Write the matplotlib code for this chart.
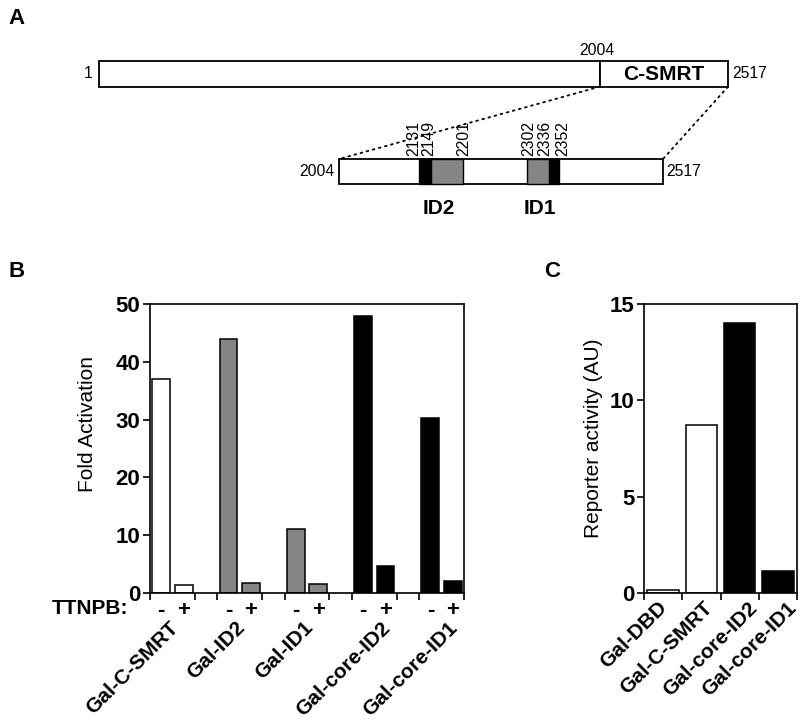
import matplotlib
matplotlib.use("Agg")
import matplotlib.pyplot as plt
from matplotlib.patches import Rectangle, ConnectionPatch
from matplotlib.transforms import blended_transform_factory, offset_copy

plt.rcParams['font.family'] = ['Liberation Sans', 'DejaVu Sans']

# ---------------- data ----------------
# Panel A: domain map
full_start, split_pos, full_end = 1, 2004, 2517
black_segments = [(2131, 2149), (2336, 2352)]
gray_segments = [(2149, 2201), (2302, 2336)]
boundary_labels = [2131, 2149, 2201, 2302, 2336, 2352]
boundary_label_shift = [-8, -3, 1, 3, -7, 6]
domain_names = ["ID2", "ID1"]
domain_spans = [(2131, 2201), (2302, 2352)]

# Panel B
b_groups = ["Gal-C-SMRT", "Gal-ID2", "Gal-ID1", "Gal-core-ID2", "Gal-core-ID1"]
b_minus = [37.0, 44.0, 11.0, 48.0, 30.3]
b_plus = [1.3, 1.8, 1.5, 4.7, 2.1]
b_colors = ["white", "#858585", "#858585", "black", "black"]
b_yticks = [0, 10, 20, 30, 40, 50]
b_label_nudge = [0, 0, 0, 10, 10]

# Panel C
c_labels = ["Gal-DBD", "Gal-C-SMRT", "Gal-core-ID2", "Gal-core-ID1"]
c_values = [0.18, 8.7, 14.0, 1.13]
c_colors = ["white", "white", "black", "black"]
c_yticks = [0, 5, 10, 15]
c_label_nudge = [0, 7, 14, 15]

GRAY = "#858585"
W, H = 800, 724
fig = plt.figure(figsize=(W / 100, H / 100), dpi=100)


def px_axes(l, t, r, b):
    return fig.add_axes([l / W, 1 - b / H, (r - l) / W, (b - t) / H])


# ---------------- Panel A ----------------
ax_top = px_axes(99, 60.7, 728, 86.7)
ax_top.set_xlim(full_start, full_end)
ax_top.set_ylim(0, 1)
ax_top.axis("off")
ax_top.add_patch(Rectangle((full_start, 0), split_pos - full_start, 1, fc="white", ec="black", lw=1.3, clip_on=False))
ax_top.add_patch(Rectangle((split_pos, 0), full_end - split_pos, 1, fc="white", ec="black", lw=1.3, clip_on=False))
ax_top.annotate("1", (full_start, 0.5), xytext=(-5, 0), textcoords="offset points",
                ha="right", va="center", fontsize=11.3)
ax_top.annotate(str(split_pos), (split_pos, 1), xytext=(-2, 2), textcoords="offset points",
                ha="center", va="bottom", fontsize=11.3)
ax_top.annotate(str(full_end), (full_end, 0.5), xytext=(3, 0), textcoords="offset points",
                ha="left", va="center", fontsize=11.3)
ax_top.text((split_pos + full_end) / 2, 0.45, "C-SMRT", ha="center", va="center",
            fontsize=15, fontweight="bold")

ax_bot = px_axes(339, 159, 663, 184)
ax_bot.set_xlim(split_pos, full_end)
ax_bot.set_ylim(0, 1)
ax_bot.axis("off")
ax_bot.add_patch(Rectangle((split_pos, 0), full_end - split_pos, 1, fc="white", ec="black", lw=1.3, clip_on=False))
for s, e in black_segments:
    ax_bot.add_patch(Rectangle((s, 0), e - s, 1, fc="black", ec="black", lw=1, clip_on=False))
for s, e in gray_segments:
    ax_bot.add_patch(Rectangle((s, 0), e - s, 1, fc=GRAY, ec="black", lw=1, clip_on=False))
ax_bot.annotate(str(split_pos), (split_pos, 0.5), xytext=(-3, 0), textcoords="offset points",
                ha="right", va="center", fontsize=11.3)
ax_bot.annotate(str(full_end), (full_end, 0.5), xytext=(2, 0), textcoords="offset points",
                ha="left", va="center", fontsize=11.3)
for v, sh in zip(boundary_labels, boundary_label_shift):
    ax_bot.annotate(str(v), (v + sh, 1), xytext=(0, 2), textcoords="offset points",
                    ha="center", va="bottom", rotation=90, fontsize=11.3)
for name, (s, e) in zip(domain_names, domain_spans):
    ax_bot.annotate(name, ((s + e) / 2, 0), xytext=(-2, -11), textcoords="offset points",
                    ha="center", va="top", fontsize=15, fontweight="bold")

for x in (split_pos, full_end):
    con = ConnectionPatch(xyA=(x, 0), coordsA=ax_top.transData,
                          xyB=(x, 1), coordsB=ax_bot.transData,
                          linestyle=(0, (1, 2.5)), color="black", lw=1.3)
    fig.add_artist(con)

# panel letters
fig.text(8 / W, 1 - 8 / H, "A", fontsize=16, fontweight="bold", ha="left", va="top")
fig.text(9 / W, 1 - 261 / H, "B", fontsize=16, fontweight="bold", ha="left", va="top")
fig.text(544 / W, 1 - 261 / H, "C", fontsize=16, fontweight="bold", ha="left", va="top")

# ---------------- Panel B ----------------
axB = px_axes(150, 304, 464, 593)
minus_x = [3 * i for i in range(len(b_groups))]
plus_x = [3 * i + 1 for i in range(len(b_groups))]
axB.bar(minus_x, b_minus, width=0.8, color=b_colors, edgecolor="black", lw=1.1)
axB.bar(plus_x, b_plus, width=0.8, color=b_colors, edgecolor="black", lw=1.1)
axB.set_xlim(-0.5, 3 * len(b_groups) - 1.5)
axB.set_ylim(0, 50)
bticks = [-0.5]
for i in range(len(b_groups) - 1):
    bticks += [3 * i + 1.5, 3 * i + 2.5]
bticks.append(3 * len(b_groups) - 1.5)
axB.set_xticks(bticks)
axB.set_xticklabels([])
axB.set_yticks(b_yticks)
axB.set_yticklabels([str(t) for t in b_yticks], fontsize=16, fontweight="bold")
axB.tick_params(axis="both", direction="out", length=5, width=1.2, pad=2)
for sp in axB.spines.values():
    sp.set_linewidth(1.2)
axB.set_ylabel("Fold Activation", fontsize=15)
axB.yaxis.set_label_coords(-0.17, 0.585)

trB = blended_transform_factory(axB.transData, axB.transAxes)
for xm, xp in zip(minus_x, plus_x):
    axB.text(xm, 0, "-", transform=offset_copy(trB, fig, 0, -17, units="dots"),
             ha="center", va="center", fontsize=16, fontweight="bold")
    axB.text(xp, 0, "+", transform=offset_copy(trB, fig, 0, -17, units="dots"),
             ha="center", va="center", fontsize=16, fontweight="bold")
for name, xm, xp, dx in zip(b_groups, minus_x, plus_x, b_label_nudge):
    axB.text((xm + xp) / 2, 0, name, transform=offset_copy(trB, fig, -4 + dx, -25, units="dots"),
             ha="right", va="top", rotation=45, rotation_mode="anchor",
             fontsize=15, fontweight="bold")
axB.text(0, 0, "TTNPB:", transform=offset_copy(axB.transAxes, fig, -98, -16, units="dots"),
         ha="left", va="center", fontsize=15, fontweight="bold")

# ---------------- Panel C ----------------
axC = px_axes(644, 304, 797, 593)
cx = list(range(len(c_labels)))
axC.bar(cx, c_values, width=0.82, color=c_colors, edgecolor="black", lw=1.1)
axC.set_xlim(-0.5, len(c_labels) - 0.5)
axC.set_ylim(0, 15)
axC.set_xticks([i - 0.5 for i in range(len(c_labels) + 1)])
axC.set_xticklabels([])
axC.set_yticks(c_yticks)
axC.set_yticklabels([str(t) for t in c_yticks], fontsize=16, fontweight="bold")
axC.tick_params(axis="both", direction="out", length=5, width=1.2, pad=2)
for sp in axC.spines.values():
    sp.set_linewidth(1.2)
axC.set_ylabel("Reporter activity (AU)", fontsize=15)
axC.yaxis.set_label_coords(-0.268, 0.534)
trC = blended_transform_factory(axC.transData, axC.transAxes)
for x, name, dx in zip(cx, c_labels, c_label_nudge):
    axC.text(x, 0, name, transform=offset_copy(trC, fig, -6 + dx, -5, units="dots"),
             ha="right", va="top", rotation=45, rotation_mode="anchor",
             fontsize=15, fontweight="bold")

fig.savefig("out.png", dpi=100)
